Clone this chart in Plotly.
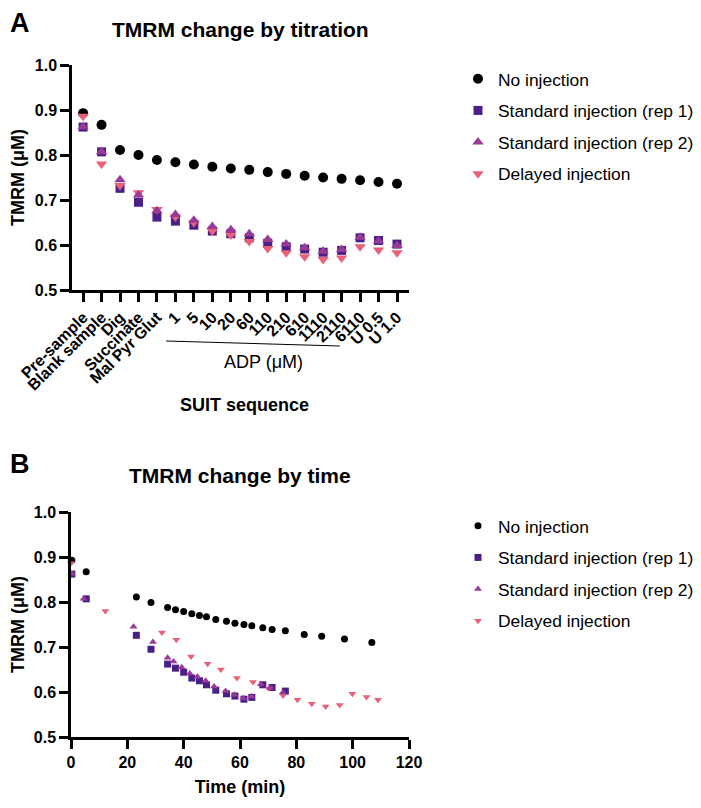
"""
TMRM change by titration / by time - two stacked panels.
"""
import plotly.graph_objects as go

# ---- data -------------------------------------------------------------
categories = ["Pre-sample", "Blank sample", "Dig", "Succinate", "Mal Pyr Glut",
              "1", "5", "10", "20", "60", "110", "210", "610", "1110", "2110",
              "6110", "U 0.5", "U 1.0"]

no_injection = [0.893, 0.867, 0.811, 0.800, 0.789, 0.784, 0.779, 0.774, 0.770,
                0.767, 0.762, 0.758, 0.754, 0.750, 0.747, 0.744, 0.740, 0.736]
standard_rep1 = [0.862, 0.807, 0.726, 0.695, 0.662, 0.653, 0.644, 0.631, 0.625,
                 0.616, 0.604, 0.596, 0.591, 0.584, 0.588, 0.616, 0.610, 0.602]
standard_rep2 = [0.863, 0.807, 0.745, 0.711, 0.676, 0.668, 0.655, 0.641, 0.634,
                 0.625, 0.612, 0.602, 0.594, 0.586, 0.590, 0.617, 0.609, 0.599]
delayed = [0.886, 0.780, 0.732, 0.716, 0.679, 0.663, 0.650, 0.631, 0.622,
           0.608, 0.592, 0.583, 0.574, 0.568, 0.571, 0.596, 0.589, 0.583]

# panel B: time stamps (min)
time_no_injection = [0.3, 5.4, 23.2, 28.4, 34.3, 37.1, 40.0, 42.9, 45.6, 48.1, 51.4,
                     55.2, 58.2, 61.4, 64.2, 68.1, 71.4, 76.1, 82.8, 89.0, 97.1, 106.8]
no_injection_time = [0.893, 0.867, 0.811, 0.799, 0.788, 0.783, 0.779, 0.774, 0.770,
                     0.767, 0.761, 0.757, 0.753, 0.750, 0.747, 0.743, 0.739, 0.736,
                     0.728, 0.724, 0.718, 0.710]
time_rep1 = [0.3, 5.4, 23.2, 28.4, 34.3, 37.1, 40.0, 42.9, 45.6, 48.1, 51.4,
             55.2, 58.2, 61.4, 64.2, 68.1, 71.4, 76.1]
time_rep2 = [0.3, 4.5, 22.2, 29.1, 34.3, 36.4, 39.3, 42.2, 44.9, 47.8, 50.8,
             54.9, 58.0, 61.2, 64.1, 67.4, 70.6, 75.2]
time_delayed = [0.0, 12.2, 32.3, 37.4, 42.6, 48.5, 53.2, 58.9, 64.6, 70.3, 75.3,
                80.4, 85.5, 90.4, 95.4, 99.9, 104.9, 109.0]

# ---- style ------------------------------------------------------------
FONT = "Arial, Liberation Sans, sans-serif"
COLORS = {
    "none": "#000000",
    "rep1": "#4a1f88",
    "rep2": "#9a3a98",
    "delayed": "#ea6079",
}
W, H = 701, 808
PAGE_PAD = 8  # default body margin of the html page


# helpers: page pixel -> paper fraction
def px_x(p):
    return (p - PAGE_PAD) / W


def px_y(p):
    return 1 - (p - PAGE_PAD) / H


fig = go.Figure()

# (name, key, symbol, legendrank) - draw order follows list order
series = [
    ("No injection", "none", "circle", 1),
    ("Standard injection (rep 1)", "rep1", "square", 2),
    ("Delayed injection", "delayed", "triangle-down", 4),
    ("Standard injection (rep 2)", "rep2", "triangle-up", 3),
]
values_a = {"none": no_injection, "rep1": standard_rep1,
            "rep2": standard_rep2, "delayed": delayed}
values_b = {"none": (time_no_injection, no_injection_time),
            "rep1": (time_rep1, standard_rep1),
            "rep2": (time_rep2, standard_rep2),
            "delayed": (time_delayed, delayed)}
sizes_a = {"circle": 10, "square": 9, "triangle-up": 10, "triangle-down": 10}
sizes_b = {"circle": 7, "square": 7, "triangle-up": 7, "triangle-down": 7}

for name, key, symbol, rank in series:
    fig.add_trace(go.Scatter(
        x=categories, y=values_a[key], mode="markers", name=name,
        marker=dict(symbol=symbol, size=sizes_a[symbol], color=COLORS[key]),
        xaxis="x", yaxis="y", legend="legend", legendrank=rank,
        legendgroup="a" + key, cliponaxis=False,
    ))
for name, key, symbol, rank in series:
    tx, ty = values_b[key]
    fig.add_trace(go.Scatter(
        x=tx, y=ty, mode="markers", name=name,
        marker=dict(symbol=symbol, size=sizes_b[symbol], color=COLORS[key]),
        xaxis="x2", yaxis="y2", legend="legend2", legendrank=rank,
        legendgroup="b" + key, cliponaxis=False,
    ))

tick_font = dict(family=FONT, size=16, color="black", weight="bold")
title_font = dict(family=FONT, size=18, color="black", weight="bold")
axis_common = dict(
    showline=True, linecolor="black", linewidth=2.5,
    ticks="outside", ticklen=9, tickwidth=2.5, tickcolor="black",
    showgrid=False, zeroline=False, tickfont=tick_font, automargin=False,
)

legend_common = dict(
    font=dict(family=FONT, size=17.4, color="black"),
    bgcolor="rgba(0,0,0,0)", itemsizing="trace",
    traceorder="grouped", tracegroupgap=6,
    xanchor="left", yanchor="top",
)

fig.update_layout(
    width=W, height=H,
    margin=dict(l=0, r=0, t=0, b=0, autoexpand=False),
    paper_bgcolor="white", plot_bgcolor="white",
    font=dict(family=FONT, color="black"),
    showlegend=True,
    xaxis=dict(axis_common, type="category", domain=[px_x(72), px_x(409)],
               range=[-0.6, 17.65], tickangle=-45, anchor="y",
               tickmode="array", tickvals=categories, ticktext=categories),
    yaxis=dict(axis_common, domain=[px_y(290), px_y(65)], range=[0.5, 1.0],
               dtick=0.1, tickformat=".1f", anchor="x",
               title=dict(text="TMRM (μM)", font=title_font, standoff=8)),
    xaxis2=dict(axis_common, domain=[px_x(71), px_x(409)], range=[0, 120],
                dtick=20, anchor="y2",
                title=dict(text="Time (min)", font=title_font, standoff=11)),
    yaxis2=dict(axis_common, domain=[px_y(737), px_y(512)], range=[0.5, 1.0],
                dtick=0.1, tickformat=".1f", anchor="x2",
                title=dict(text="TMRM (μM)", font=title_font, standoff=8)),
    legend=dict(legend_common, x=px_x(458), y=px_y(61)),
    legend2=dict(legend_common, x=px_x(458), y=px_y(508)),
)

# ADP bracket line under the ADP concentrations
fig.add_shape(type="line", xref="x", yref="paper",
              x0=4.5, x1=13.9, y0=px_y(341), y1=px_y(346),
              line=dict(color="black", width=1))

annotations = [
    dict(text="A", x=px_x(8), y=px_y(23), xanchor="left",
         font=dict(family=FONT, size=27, weight="bold")),
    dict(text="B", x=px_x(8), y=px_y(464), xanchor="left",
         font=dict(family=FONT, size=27, weight="bold")),
    dict(text="TMRM change by titration", x=px_x(240), y=px_y(29),
         font=dict(family=FONT, size=21, weight="bold")),
    dict(text="TMRM change by time", x=px_x(240), y=px_y(476),
         font=dict(family=FONT, size=21, weight="bold")),
    dict(text="ADP (μM)", x=px_x(263), y=px_y(362),
         font=dict(family=FONT, size=18)),
    dict(text="SUIT sequence", x=px_x(244), y=px_y(405),
         font=dict(family=FONT, size=18, weight="bold")),
]
for a in annotations:
    a.update(xref="paper", yref="paper", showarrow=False, yanchor="middle")
    a["font"]["color"] = "black"
    a.setdefault("xanchor", "center")
    fig.add_annotation(**a)

fig.write_html("out.html")
